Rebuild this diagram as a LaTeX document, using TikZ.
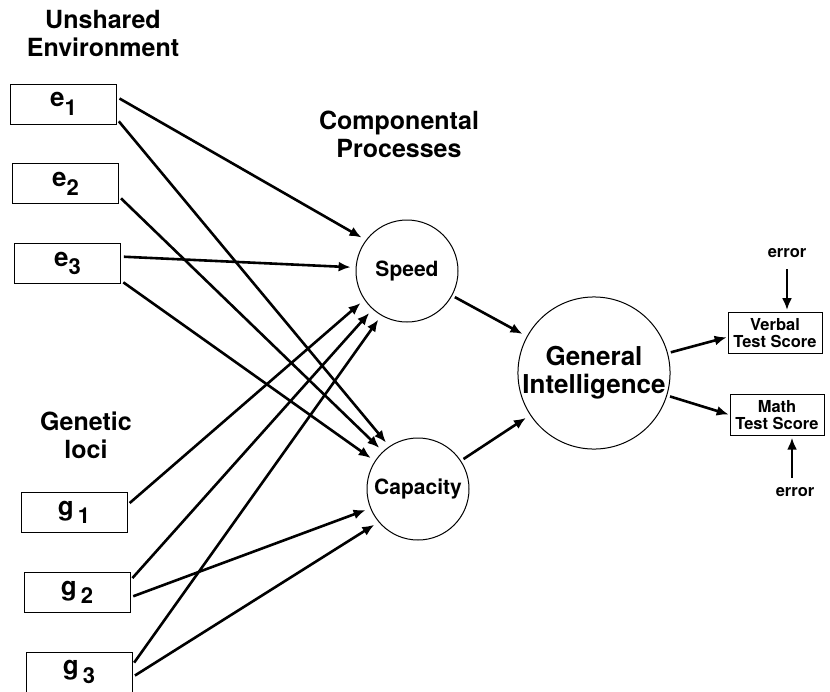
\documentclass[tikz,border=0pt]{standalone}
\usepackage{fontspec}
\setmainfont{TeX Gyre Heros}
\usetikzlibrary{positioning,arrows.meta}

\newcommand{\idx}[1]{\raisebox{-0.32em}{\fontsize{22}{22}\selectfont #1}}

\begin{document}
\begin{tikzpicture}
    [x=1pt,y=-1pt,
     var/.style={rectangle,draw,line width=0.8pt,minimum width=106pt,minimum height=40pt,inner sep=0pt,
       font=\fontsize{26}{28}\selectfont\bfseries, node distance=39pt},
     unit/.style={circle,draw,line width=1pt,inner sep=0pt,minimum size=102pt,
       font=\fontsize{21}{24}\selectfont\bfseries},
     score/.style={rectangle,draw,line width=0.8pt,minimum width=94pt,minimum height=41pt,inner sep=0pt,
       align=center,font=\fontsize{16.5}{17}\selectfont\bfseries},
     head/.style={align=center,font=\fontsize{25}{28}\selectfont\bfseries},
     noise/.style={font=\fontsize{16.5}{18}\selectfont\bfseries},
     link/.style={-{Latex[length=12pt,width=10pt]},line width=2.6pt,shorten <=3pt,shorten >=5pt}]
    \useasboundingbox (0,0) rectangle (830,691);

    % sources
    \node[head] (env) at (103,33) {Unshared\\Environment};
    \node[var] (e1) at (63.5,104) {e\idx{1}};
    \node[var] (e2) [below=of e1,xshift=2pt] {e\idx{2}};
    \node[var] (e3) [below=of e2,xshift=2pt] {e\idx{3}};

    \node[head] (loci) at (86,435) {Genetic\\loci};
    \node[var] (g1) at (74,512.5) {g\,\idx{1}};
    \node[var] (g2) [below=of g1,xshift=3pt] {g\,\idx{2}};
    \node[var] (g3) [below=of g2,xshift=2pt] {g\,\idx{3}};

    % processes
    \node[head] (proc) at (399,134) {Componental\\Processes};
    \node[unit] (speed) at (407,271) {Speed};
    \node[unit] (cap) at (418,489) {Capacity};
    \node[unit,minimum size=148pt,align=center,font=\fontsize{26}{28}\selectfont\bfseries] (gi) at (594,373)
      {General\\Intelligence};

    % measures
    \node[score] (verbal) at (775,333) {Verbal\\Test Score};
    \node[score] (math) [below=40pt of verbal,xshift=2pt] {Math\\Test Score};
    \node[noise] (err1) at (787,253) {error};
    \node[noise] (err2) at (795,492) {error};

    \draw[link] ([yshift=7pt]e1.east) -- (speed.143);
    \draw[link] ([yshift=-15pt]e1.east) -- (cap.124);
    \draw[link] ([yshift=-12.5pt]e2.east) -- (cap.133);
    \draw[link] ([yshift=7pt]e3.east) -- (speed.176);
    \draw[link] ([yshift=-17pt]e3.east) -- (cap.147);

    \draw[link] ([yshift=7.5pt]g1.east) -- (speed.214);
    \draw[link] ([yshift=12pt]g2.east) -- (speed.228);
    \draw[link] ([yshift=-5pt]g2.east) -- (cap.202);
    \draw[link] ([yshift=7pt]g3.east) -- (speed.240);
    \draw[link] ([yshift=-5pt]g3.east) -- (cap.220);

    \draw[link] (speed) -- (gi);
    \draw[link] (cap) -- (gi);
    \draw[link,shorten >=1pt] (gi) -- ([yshift=-4pt]verbal.west);
    \draw[link,shorten >=1pt] (gi) -- (math.west);

    \draw[link,shorten <=8pt,shorten >=2pt] (err1) -- (err1 |- verbal.north);
    \draw[link,shorten <=6pt,shorten >=2pt] ([xshift=-3pt]err2.north) -- ([xshift=-3pt]err2.north |- math.south);
\end{tikzpicture}
\end{document}
